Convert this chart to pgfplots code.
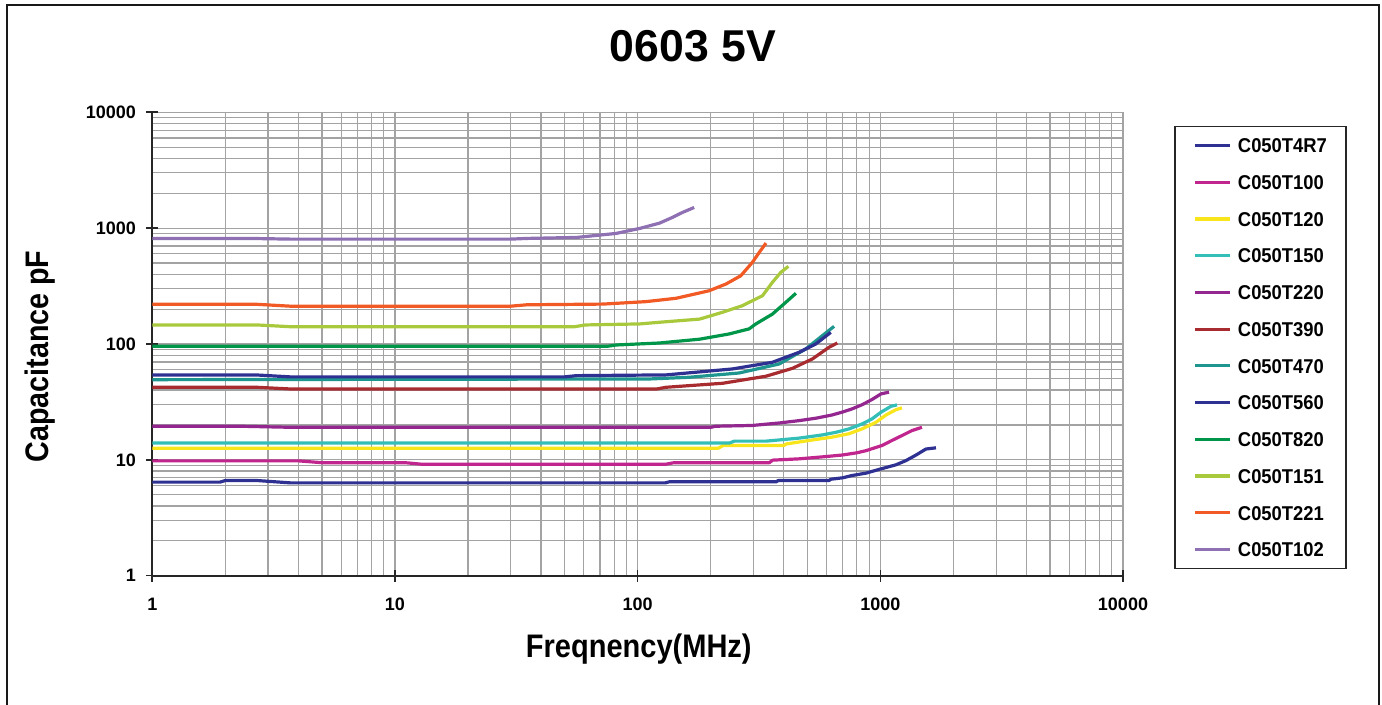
\documentclass[border=0pt]{standalone}
\usepackage{pgfplots}
\pgfplotsset{compat=1.18}
\usepackage{graphicx}
\usepackage{fontspec}
\setmainfont{Liberation Sans}
\definecolor{cA}{HTML}{2E3192}
\definecolor{cB}{HTML}{C1268F}
\definecolor{cC}{HTML}{F9E51B}
\definecolor{cD}{HTML}{33BFB7}
\definecolor{cE}{HTML}{93278F}
\definecolor{cF}{HTML}{A82B2F}
\definecolor{cG}{HTML}{1E958E}
\definecolor{cH}{HTML}{2E3192}
\definecolor{cI}{HTML}{00964A}
\definecolor{cJ}{HTML}{A9C93C}
\definecolor{cK}{HTML}{F15A25}
\definecolor{cL}{HTML}{8E70B3}
\begin{document}
\begin{tikzpicture}
\useasboundingbox (0,0) rectangle (691pt,352.5pt);
\draw[line width=1pt, color=black!90] (3.65pt,0pt) -- (3.65pt,350.15pt) -- (689.35pt,350.15pt) -- (689.35pt,0pt);
\node[anchor=base, font=\fontsize{22.3}{26}\selectfont\bfseries] at (346.5pt,321.5pt) {0603 5V};
\begin{axis}[
  at={(76.15pt,64.65pt)}, anchor=south west,
  scale only axis, width=485.35pt, height=231.7pt,
  xmode=log, ymode=log,
  xmin=1, xmax=10000, ymin=1, ymax=10000,
  axis x line*=bottom, axis y line*=left,
  axis line style={black!85, line width=0.9pt, -},
  xtick={1,10,100,1000,10000}, xticklabels={1,10,100,1000,10000},
  ytick={1,10,100,1000,10000}, yticklabels={1,10,100,1000,10000},
  minor xtick={2,3,4,5,6,7,8,9,20,30,40,50,60,70,80,90,200,300,400,500,600,700,800,900,2000,3000,4000,5000,6000,7000,8000,9000},
  minor ytick={2,3,4,5,6,7,8,9,20,30,40,50,60,70,80,90,200,300,400,500,600,700,800,900,2000,3000,4000,5000,6000,7000,8000,9000},
  grid=both,
  major grid style={black!36, line width=0.6pt},
  minor grid style={black!36, line width=0.6pt},
  tick align=center, major tick length=6pt, minor tick length=0pt,
  tick style={black!85, line width=0.8pt},
  /pgf/number format/assume math mode=true,
  xticklabel style={font=\fontsize{9}{11}\selectfont\bfseries, inner sep=0pt, anchor=north, yshift=-8pt},
  yticklabel style={font=\fontsize{9}{11}\selectfont\bfseries, inner sep=0pt, anchor=east, xshift=-5pt},
  xlabel={\scalebox{0.89}[1]{Freqnency(MHz)}},
  ylabel={\scalebox{0.88}[1]{Capacitance pF}},
  xlabel style={font=\fontsize{16.3}{19}\selectfont\bfseries, at={(axis description cs:0.5012,-0.1776)}, anchor=base, inner sep=0pt},
  ylabel style={font=\fontsize{16.3}{19}\selectfont\bfseries, at={(axis description cs:-0.1071,0.473)}, anchor=base, inner sep=0pt},
  legend style={at={(1.0525,0.971)}, anchor=north west, draw=black!85, line width=0.8pt, fill=white,
    inner xsep=9.5pt, inner ysep=5.85pt, row sep=11.17pt, column sep=3pt,
    font=\fontsize{10}{12}\selectfont\bfseries,
    nodes={inner sep=0pt, text height=7.2pt, text depth=0pt},
    cells={anchor=west}},
  legend image code/.code={\draw[line width=1.6pt] (0pt,0pt) -- (17.5pt,0pt);},
  every axis plot/.append style={line width=1.6pt, no markers, line join=round},
]
\addplot[cA] coordinates {(1,6.42)(1.9,6.42)(2.0,6.63)(2.7,6.63)(3.7,6.33)(130,6.33)(135,6.46)(372,6.46)(380,6.63)(615,6.63)(625,6.8)(700,7.0)(764,7.32)(873,7.68)(1007,8.36)(1160,9.06)(1276,9.86)(1403,11.0)(1542,12.4)(1696,12.7)};
\addlegendentry{\scalebox{0.92}[1]{C050T4R7}}
\addplot[cB] coordinates {(1,9.8)(4,9.8)(5,9.45)(11,9.45)(13,9.15)(130,9.15)(140,9.42)(348,9.42)(360,9.94)(463,10.2)(575,10.6)(696,11.0)(800,11.5)(873,12.0)(1016,13.3)(1117,14.7)(1228,16.2)(1351,17.9)(1485,19.1)};
\addlegendentry{\scalebox{0.92}[1]{C050T100}}
\addplot[cC] coordinates {(1,12.6)(215,12.6)(225,13.3)(400,13.3)(409,13.7)(509,14.7)(633,15.7)(743,16.8)(841,18.5)(960,21.1)(1056,24.4)(1160,27.1)(1228,28.1)};
\addlegendentry{\scalebox{0.92}[1]{C050T120}}
\addplot[cD] coordinates {(1,14.0)(240,14.0)(250,14.5)(338,14.5)(463,15.4)(576,16.4)(657,17.3)(743,18.5)(841,20.4)(925,22.6)(1007,25.8)(1107,29.0)(1171,29.8)};
\addlegendentry{\scalebox{0.92}[1]{C050T150}}
\addplot[cE] coordinates {(1,19.5)(2.3,19.5)(3.7,19.1)(200,19.1)(210,19.5)(296,19.8)(383,20.8)(463,21.8)(544,22.9)(633,24.4)(696,25.8)(764,27.5)(841,29.9)(925,33.2)(1007,37.1)(1086,38.4)};
\addlegendentry{\scalebox{0.92}[1]{C050T220}}
\addplot[cF] coordinates {(1,42.3)(2.7,42.3)(3.7,40.9)(120,40.9)(131,42.3)(224,45.8)(338,52.7)(435,61.7)(525,74.3)(615,93.7)(665,102)};
\addlegendentry{\scalebox{0.92}[1]{C050T390}}
\addplot[cG] coordinates {(1,49.2)(112,49.9)(163,51.6)(262,56.2)(383,67.2)(493,90.6)(577,118)(645,142)};
\addlegendentry{\scalebox{0.92}[1]{C050T470}}
\addplot[cH] coordinates {(1,54)(2.7,54)(3.7,52)(50,52)(56,53.3)(131,54.1)(246,60.9)(359,69.5)(463,84.8)(542,100)(625,126)};
\addlegendentry{\scalebox{0.92}[1]{C050T560}}
\addplot[cI] coordinates {(1,95.5)(75,95.5)(81.5,98)(123,102)(180,110)(238,122)(288,135)(307,149)(359,181)(408,229)(449,274)};
\addlegendentry{\scalebox{0.92}[1]{C050T820}}
\addplot[cJ] coordinates {(1,146)(2.7,146)(3.7,141)(55,141)(61,146)(102,149)(123,154)(180,164)(224,188)(270,214)(327,261)(359,340)(389,415)(418,468)};
\addlegendentry{\scalebox{0.92}[1]{C050T151}}
\addplot[cK] coordinates {(1,220)(2.7,220)(3.7,212)(30,212)(35,218)(72,221)(108,232)(144,248)(197,288)(231,329)(266,388)(297,506)(317,617)(338,743)};
\addlegendentry{\scalebox{0.92}[1]{C050T221}}
\addplot[cL] coordinates {(1,815)(2.5,815)(3.7,804)(30,804)(35,815)(56,831)(81.5,900)(102,994)(123,1104)(139,1237)(153,1366)(171,1508)};
\addlegendentry{\scalebox{0.92}[1]{C050T102}}
\end{axis}
\end{tikzpicture}
\end{document}
